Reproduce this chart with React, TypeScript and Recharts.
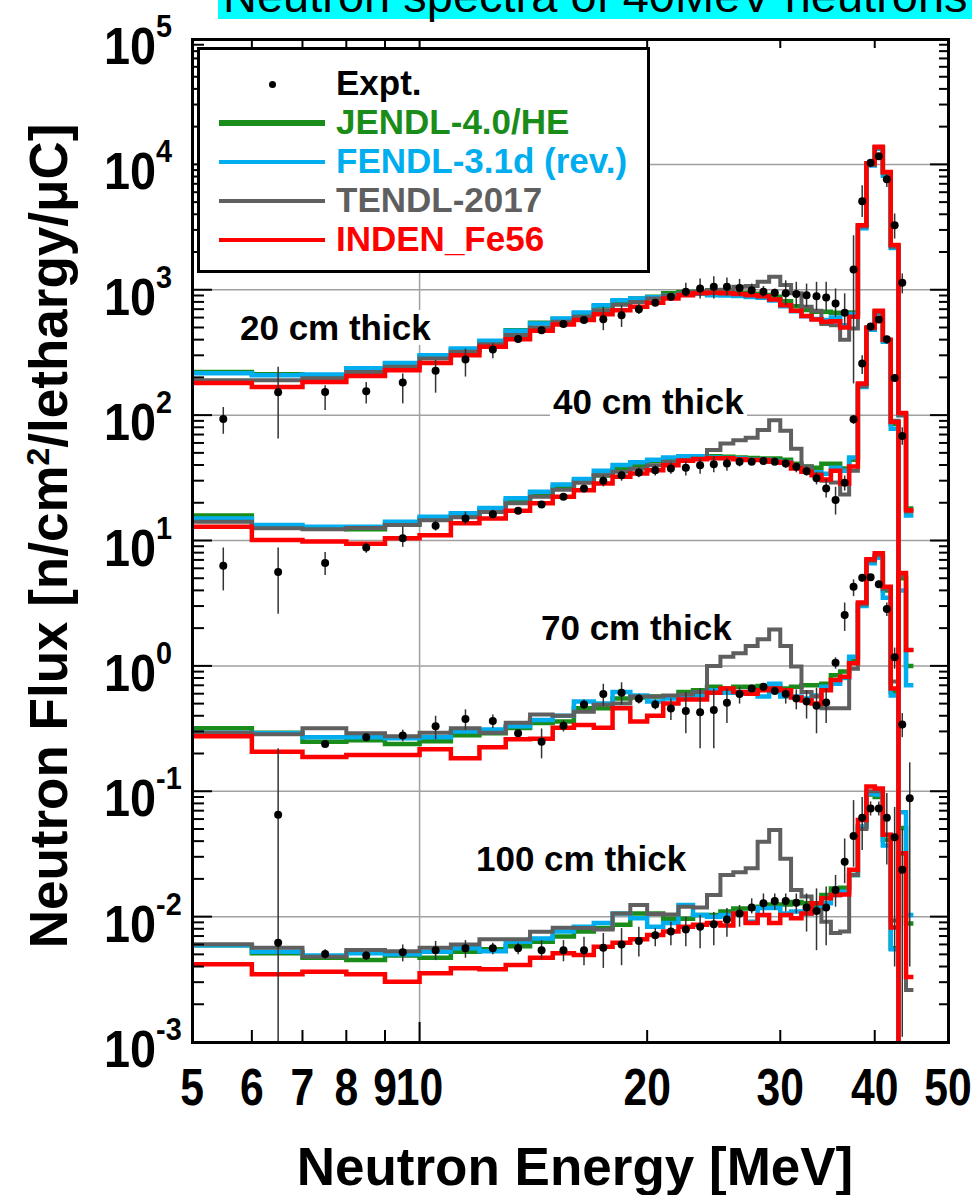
import React from 'react';
import { CartesianGrid, ComposedChart, ErrorBar, Line, Scatter, XAxis, YAxis } from 'recharts';

const FONT = "'Liberation Sans', Arial, Helvetica, sans-serif";

const W = 972;
const H = 1195;
const PLOT_LEFT = 192;
const PLOT_RIGHT = 948;
const PLOT_TOP = 39;
const PLOT_BOTTOM = 1042;

const GREEN = '#1a8c1a';
const BLUE = '#00aeef';
const GREY = '#5f5f5f';
const RED = '#ff0000';

// value used for bins that fall below the frame (drawn off-scale)
const OFF = 1e-6;

// 1 MeV wide bins, 5 .. 45 MeV
const BIN_EDGES = [5, 6, 7, 8, 9, 10, 11, 12, 13, 14, 15, 16, 17, 18, 19, 20, 21, 22, 23, 24, 25, 26, 27, 28, 29, 30, 31, 32, 33, 34, 35, 36, 37, 38, 39, 40, 41, 42, 43, 44, 45];
const EXPT_E = [5.5, 6.5, 7.5, 8.5, 9.5, 10.5, 11.5, 12.5, 13.5, 14.5, 15.5, 16.5, 17.5, 18.5, 19.5, 20.5, 21.5, 22.5, 23.5, 24.5, 25.5, 26.5, 27.5, 28.5, 29.5, 30.5, 31.5, 32.5, 33.5, 34.5, 35.5, 36.5, 37.5, 38.5, 39.5, 40.5, 41.5, 42.5, 43.5, 44.5];

const X_TICKS = [5, 6, 7, 8, 9, 10, 20, 30, 40, 50];
const X_TICK_LABELS = ['5', '6', '7', '8', '9', '10', '20', '30', '40', '50'];
const Y_DECADES = [-3, -2, -1, 0, 1, 2, 3, 4, 5];
const Y_GRID = [1e-2, 1e-1, 1, 10, 100, 1e3, 1e4];

// 20 cm thick
const JENDL_20 = [221, 212, 208, 232, 255, 293, 332, 385, 475, 545, 585, 650, 740, 810, 850, 880, 936, 960, 960, 955, 950, 945, 930, 910, 880, 810, 740, 690, 667, 667, 654, 650, 660, 3250, 10000, 13700, 8600, 2250, 102, 18];
const FENDL_20 = [216, 208, 211, 237, 261, 300, 340, 392, 471, 538, 590, 660, 753, 826, 852, 870, 900, 925, 930, 906, 900, 890, 875, 865, 820, 740, 675, 615, 585, 575, 600, 520, 640, 3100, 9800, 13300, 8100, 2150, 100, 15.8];
const TENDL_20 = [190, 190, 197, 221, 243, 283, 320, 368, 435, 500, 555, 610, 687, 760, 800, 850, 900, 940, 970, 994, 1002, 1059, 1070, 1157, 1267, 1089, 936, 731, 679, 532, 520, 400, 490, 3200, 9900, 13500, 8500, 2200, 100, 17];
const INDEN_20 = [180, 168, 184, 205, 228, 261, 301, 351, 402, 471, 528, 573, 639, 687, 731, 787, 852, 906, 936, 946, 936, 923, 906, 889, 837, 753, 679, 617, 580, 555, 560, 500, 610, 3275, 10200, 13800, 8700, 2270, 104, 17.4];

// 40 cm thick
const JENDL_40 = [15.8, 12.9, 12.7, 12.3, 13.5, 15.0, 16.0, 17.5, 20.8, 23.5, 26.5, 29.5, 33, 37, 40, 43, 45, 46.5, 47, 47, 46.5, 46, 45.5, 45, 45, 44, 41, 39, 38, 41, 41, 37.6, 44, 175, 495, 670, 395, 85, OFF, OFF];
const FENDL_40 = [15.0, 13.3, 12.9, 12.9, 14.1, 15.5, 16.5, 18.2, 21.7, 24.5, 28.0, 31, 36, 40, 42, 44, 46, 47, 47, 46, 45.5, 45, 44, 44, 43, 42, 38, 36, 35, 34, 38, 36, 46, 168, 480, 650, 385, 78, OFF, OFF];
const TENDL_40 = [14.1, 12.5, 12.3, 12.6, 13.3, 14.5, 15.3, 16.9, 19.8, 22.3, 25.4, 28.9, 33.2, 35.3, 37.4, 39.9, 42.4, 43.8, 45, 52.6, 59.4, 63, 66, 76, 91, 75, 54, 39, 34, 30, 29, 23.3, 36, 170, 490, 660, 395, 90, OFF, OFF];
const INDEN_40 = [12.9, 10.1, 9.8, 9.4, 10.4, 11.0, 13.7, 15.0, 17.3, 19.8, 22.3, 25.2, 28.5, 32.2, 34.3, 36.4, 39.9, 43.2, 44.4, 45.2, 45.2, 44.4, 43.8, 43.8, 42.4, 41.7, 37.6, 35.3, 33.2, 30.7, 36, 28.5, 39, 179, 500, 680, 400, 88, OFF, OFF];

// 70 cm thick
const JENDL_70 = [0.318, 0.293, 0.248, 0.255, 0.238, 0.251, 0.28, 0.29, 0.32, 0.35, 0.36, 0.46, 0.46, 0.55, 0.56, 0.57, 0.57, 0.62, 0.64, 0.68, 0.66, 0.68, 0.68, 0.69, 0.68, 0.66, 0.68, 0.70, 0.70, 0.72, 0.84, 0.90, 1.1, 3.1, 6.8, 7.5, 4.0, 0.62, 5.0, 1.0];
const FENDL_70 = [0.293, 0.29, 0.27, 0.27, 0.265, 0.27, 0.3, 0.311, 0.33, 0.37, 0.40, 0.52, 0.50, 0.62, 0.58, 0.52, 0.55, 0.56, 0.58, 0.64, 0.61, 0.62, 0.62, 0.57, 0.72, 0.57, 0.57, 0.55, 0.58, 0.68, 0.72, 0.8, 1.18, 3.0, 6.6, 7.3, 3.5, 0.58, 4.0, 0.7];
const TENDL_70 = [0.293, 0.285, 0.318, 0.29, 0.275, 0.293, 0.318, 0.293, 0.352, 0.41, 0.40, 0.43, 0.49, 0.50, 0.57, 0.57, 0.58, 0.59, 0.62, 1.0, 1.18, 1.26, 1.44, 1.63, 1.95, 1.44, 0.99, 0.62, 0.57, 0.46, 0.46, 0.46, 0.95, 3.1, 6.9, 7.6, 4.1, 0.75, 5.2, 1.34];
const INDEN_70 = [0.275, 0.207, 0.188, 0.195, 0.195, 0.216, 0.183, 0.224, 0.26, 0.262, 0.321, 0.337, 0.321, 0.46, 0.36, 0.40, 0.50, 0.54, 0.54, 0.61, 0.66, 0.62, 0.60, 0.64, 0.66, 0.64, 0.56, 0.53, 0.50, 0.64, 0.77, 0.82, 1.05, 3.2, 7.1, 7.9, 4.27, 0.66, 5.5, 1.34];

// 100 cm thick
const JENDL_100 = [0.0059, 0.0051, 0.0047, 0.00451, 0.0049, 0.0047, 0.00525, 0.0055, 0.0058, 0.0063, 0.00693, 0.0076, 0.0081, 0.0086, 0.0106, 0.0106, 0.0096, 0.0096, 0.0103, 0.0103, 0.011, 0.0116, 0.0116, 0.012, 0.0125, 0.0125, 0.0131, 0.0128, 0.012, 0.0149, 0.0168, 0.017, 0.0215, 0.052, 0.094, 0.09, 0.041, 0.0056, 0.051, 0.0088];
const FENDL_100 = [0.0059, 0.00525, 0.0049, 0.0051, 0.005, 0.00525, 0.0056, 0.0053, 0.0063, 0.0067, 0.0076, 0.0083, 0.0089, 0.0106, 0.0097, 0.0083, 0.0089, 0.0124, 0.0103, 0.01, 0.0103, 0.0106, 0.0091, 0.0117, 0.0117, 0.0106, 0.011, 0.0106, 0.0115, 0.0128, 0.0149, 0.0158, 0.0215, 0.052, 0.096, 0.094, 0.037, 0.0055, 0.068, 0.0103];
const TENDL_100 = [0.00601, 0.00565, 0.00478, 0.00542, 0.0053, 0.00565, 0.006, 0.00659, 0.0066, 0.00759, 0.00817, 0.0081, 0.0079, 0.0106, 0.0124, 0.0105, 0.0104, 0.012, 0.0118, 0.0149, 0.0215, 0.0226, 0.0243, 0.0396, 0.049, 0.029, 0.0163, 0.0145, 0.0113, 0.0091, 0.0074, 0.0076, 0.0215, 0.05, 0.1, 0.1, 0.045, 0.0093, 0.032, 0.0026];
const INDEN_100 = [0.00417, 0.00347, 0.00364, 0.00347, 0.00303, 0.00353, 0.00387, 0.0038, 0.00411, 0.0047, 0.0051, 0.00494, 0.00575, 0.0062, 0.00659, 0.00713, 0.0076, 0.0083, 0.0086, 0.0089, 0.0085, 0.0106, 0.0089, 0.0103, 0.0089, 0.0103, 0.0097, 0.0106, 0.0128, 0.014, 0.0149, 0.015, 0.0236, 0.059, 0.109, 0.105, 0.045, 0.0082, 0.032, 0.0033];

// measured points and their error bars [low, high]
const EXPT_20 = [93, 152, 153, 155, 182, 226, 278, 334, 404, 476, 532, 573, 583, 627, 700, 787, 879, 963, 1024, 1055, 1055, 1035, 993, 963, 946, 936, 923, 906, 889, 868, 778, 654, 1452, 5090, 10300, 11600, 7600, 3270, 1135, null];
const EXPT_20_ERR = [[71, 116], [65, 243], [110, 173], [124, 184], [124, 215], [151, 275], [203, 340], [284, 375], [380, 430], [455, 500], [510, 555], [550, 600], [476, 731], [505, 753], [640, 770], [740, 840], [820, 940], [879, 1137], [852, 1230], [850, 1280], [900, 1250], [900, 1220], [910, 1120], [880, 1070], [880, 1020], [753, 1190], [731, 1157], [731, 1120], [687, 1157], [687, 1157], [608, 1024], [523, 936], [179, 2720], [3810, 6820], [9500, 11000], [11000, 12200], [6600, 8300], [2560, 4060], [935, 1350], null];

const EXPT_40 = [6.3, 5.6, 6.6, 8.8, 10.4, 13.1, 15.0, 16.2, 17.3, 19.4, 22.3, 26, 29.9, 33.2, 34.9, 36.4, 37.6, 38, 39.9, 40.6, 41.2, 42.4, 42.4, 43, 42.4, 41.2, 38.7, 35.7, 31.3, 26, 21, 28.9, 92.5, 258, 510, 580, 402, 198, 68, null];
const EXPT_40_ERR = [[4.0, 8.8], [2.6, 8.8], [5.3, 8.1], [8.0, 9.6], [8.9, 12.9], [12, 14.5], [13.5, 17], [15, 17.6], [16.3, 18.4], [18.2, 20.6], [21, 23.6], [24.5, 27.5], [27, 33], [30, 36], [32, 38], [33, 40], [34, 42], [33, 43], [34, 45], [35, 47], [36, 46], [39, 46], [40, 45], [41, 45], [40, 45], [38, 44], [35, 42], [33, 39], [28, 35], [22, 31], [16.1, 26.8], [25, 33], [85, 100], [213, 300], [480, 540], [550, 610], [370, 430], [185, 212], [58, 80], null];

const EXPT_70 = [null, 0.065, 0.238, 0.27, 0.279, 0.33, 0.377, 0.363, 0.29, 0.248, 0.333, 0.493, 0.596, 0.61, 0.547, 0.493, 0.458, 0.437, 0.426, 0.445, 0.508, 0.596, 0.66, 0.68, 0.63, 0.596, 0.55, 0.52, 0.48, 0.51, 1.06, 2.54, 4.27, 5.05, 5.1, 4.47, 2.84, 1.17, 0.34, null];
const EXPT_70_ERR = [null, [0.001, 0.22], [0.225, 0.252], [0.255, 0.285], [0.25, 0.31], [0.26, 0.4], [0.31, 0.45], [0.32, 0.41], [0.275, 0.305], [0.183, 0.317], [0.3, 0.37], [0.45, 0.54], [0.48, 0.72], [0.49, 0.74], [0.5, 0.6], [0.45, 0.54], [0.37, 0.55], [0.29, 0.62], [0.22, 0.66], [0.22, 0.66], [0.35, 0.66], [0.5, 0.68], [0.62, 0.7], [0.64, 0.72], [0.6, 0.67], [0.5, 0.66], [0.45, 0.65], [0.38, 0.64], [0.29, 0.67], [0.35, 0.66], [0.95, 1.17], [1.9, 3.2], [3.6, 4.9], [4.7, 5.4], [4.8, 5.4], [4.2, 4.8], [2.5, 3.2], [0.95, 1.4], [0.27, 0.42], null];

const EXPT_100 = [null, 0.0062, 0.00504, 0.00489, 0.0052, 0.0054, 0.0056, 0.0056, 0.0056, 0.0054, 0.0054, 0.0054, 0.00565, 0.006, 0.0064, 0.0071, 0.0076, 0.0079, 0.0083, 0.0087, 0.0095, 0.0106, 0.0118, 0.0128, 0.0133, 0.0133, 0.0129, 0.0118, 0.0111, 0.0118, 0.0163, 0.0274, 0.044, 0.0615, 0.073, 0.073, 0.0615, 0.043, 0.0236, 0.088];
const EXPT_100_ERR = [null, [0.0058, 0.0066], [0.0046, 0.0055], [0.0045, 0.0053], [0.0044, 0.006], [0.0045, 0.0064], [0.0047, 0.0065], [0.005, 0.0062], [0.005, 0.0062], [0.0046, 0.0065], [0.0044, 0.0065], [0.0041, 0.0069], [0.0039, 0.0074], [0.0041, 0.0081], [0.0048, 0.0083], [0.0058, 0.0081], [0.0059, 0.0091], [0.0058, 0.01], [0.0056, 0.0103], [0.0059, 0.0109], [0.0069, 0.0117], [0.0083, 0.0124], [0.0106, 0.014], [0.0106, 0.0153], [0.0113, 0.0153], [0.011, 0.0153], [0.0106, 0.0153], [0.0076, 0.0153], [0.0054, 0.0168], [0.0059, 0.0174], [0.012, 0.0215], [0.0185, 0.042], [0.025, 0.085], [0.034, 0.09], [0.064, 0.083], [0.064, 0.083], [0.026, 0.097], [0.004, 0.075], [0.0011, 0.05], [0.004, 0.17]];

const SERIES = [
  { name: 'JENDL-4.0/HE', color: GREEN, width: 4.5, groups: [JENDL_20, JENDL_40, JENDL_70, JENDL_100] },
  { name: 'FENDL-3.1d (rev.)', color: BLUE, width: 4.5, groups: [FENDL_20, FENDL_40, FENDL_70, FENDL_100] },
  { name: 'TENDL-2017', color: GREY, width: 4, groups: [TENDL_20, TENDL_40, TENDL_70, TENDL_100] },
  { name: 'INDEN_Fe56', color: RED, width: 4.5, groups: [INDEN_20, INDEN_40, INDEN_70, INDEN_100] },
];

const EXPT_GROUPS = [
  { vals: EXPT_20, errs: EXPT_20_ERR },
  { vals: EXPT_40, errs: EXPT_40_ERR },
  { vals: EXPT_70, errs: EXPT_70_ERR },
  { vals: EXPT_100, errs: EXPT_100_ERR },
];

const THICK_LABELS = [
  { text: '20 cm thick', left: 240, baseline: 340 },
  { text: '40 cm thick', left: 553, baseline: 414 },
  { text: '70 cm thick', left: 541, baseline: 640 },
  { text: '100 cm thick', left: 476, baseline: 871 },
];

const LEGEND_ITEMS = [
  { label: 'Expt.', color: '#000', line: 0 },
  { label: 'JENDL-4.0/HE', color: GREEN, line: 6 },
  { label: 'FENDL-3.1d (rev.)', color: BLUE, line: 4 },
  { label: 'TENDL-2017', color: GREY, line: 4 },
  { label: 'INDEN_Fe56', color: RED, line: 4 },
];

const Y_TICKS: number[] = [];
Y_DECADES.forEach((d) => {
  if (d === 5) {
    Y_TICKS.push(1e5);
    return;
  }
  for (let m = 1; m <= 9; m++) Y_TICKS.push(Number((m * Math.pow(10, d)).toPrecision(6)));
});

function hist(vals: number[]) {
  const pts = vals.map((v, i) => ({ x: BIN_EDGES[i], y: v }));
  pts.push({ x: BIN_EDGES[vals.length], y: vals[vals.length - 1] });
  return pts;
}

function expt(vals: (number | null)[], errs: (number[] | null)[]) {
  const out: { x: number; y: number; err: number[] }[] = [];
  EXPT_E.forEach((e, i) => {
    const v = vals[i];
    if (v == null) return;
    const r = errs[i];
    out.push({ x: e, y: v, err: r ? [v - r[0], r[1] - v] : [0, 0] });
  });
  return out;
}

function YTick(props: any) {
  const { y, payload } = props;
  const e = Math.log10(payload.value);
  const major = Math.abs(e - Math.round(e)) < 1e-6;
  return (
    <g>
      <line x1={PLOT_LEFT} x2={PLOT_LEFT + (major ? 20 : 12)} y1={y} y2={y} stroke="#000" strokeWidth={2} />
      <line x1={PLOT_RIGHT - (major ? 18 : 9)} x2={PLOT_RIGHT} y1={y} y2={y} stroke="#000" strokeWidth={2} />
      {major && (
        <text transform={`translate(104, ${y + 25}) scale(0.9, 1)`} fontFamily={FONT} fontWeight="bold" fontSize={52} fill="#000">
          10
          <tspan dy={-27} fontSize={32}>
            {Math.round(e)}
          </tspan>
        </text>
      )}
    </g>
  );
}

function XTick(props: any) {
  const { x, payload, index } = props;
  const v = payload.value;
  const edge = v === 5 || v === 50;
  return (
    <g>
      {!edge && <line x1={x} x2={x} y1={PLOT_BOTTOM} y2={PLOT_BOTTOM - (v === 10 ? 20 : 12)} stroke="#000" strokeWidth={2} />}
      {!edge && <line x1={x} x2={x} y1={PLOT_TOP} y2={PLOT_TOP + 9} stroke="#000" strokeWidth={2} />}
      <text transform={`translate(${x}, ${PLOT_BOTTOM + 63}) scale(0.82, 1)`} textAnchor="middle" fontFamily={FONT} fontWeight="bold" fontSize={52} fill="#000">
        {X_TICK_LABELS[index] ?? String(v)}
      </text>
    </g>
  );
}

const renderDot = (p: any) => <circle cx={p.cx} cy={p.cy} r={4} fill="#000" />;

export default function App() {
  return (
    <div style={{ position: 'absolute', left: 0, top: 0, width: W, height: H, overflow: 'hidden', background: '#fff', fontFamily: FONT }}>
      <ComposedChart width={W} height={H} margin={{ top: PLOT_TOP, right: W - PLOT_RIGHT, bottom: H - PLOT_BOTTOM - 30, left: PLOT_LEFT - 60 }}>
        <CartesianGrid horizontalValues={Y_GRID} verticalValues={[10]} stroke="#a0a0a0" strokeWidth={1.5} />
        <XAxis
          dataKey="x"
          type="number"
          scale="log"
          domain={[5, 50]}
          allowDataOverflow
          ticks={X_TICKS}
          interval={0}
          height={30}
          tickSize={0}
          tickMargin={0}
          tickLine={false}
          axisLine={false}
          tick={<XTick />}
        />
        <YAxis
          dataKey="y"
          type="number"
          scale="log"
          domain={[1e-3, 1e5]}
          allowDataOverflow
          ticks={Y_TICKS}
          interval={0}
          width={60}
          tickSize={0}
          tickMargin={0}
          tickLine={false}
          axisLine={false}
          tick={<YTick />}
        />
        {SERIES.flatMap((s) =>
          s.groups.map((vals, gi) => (
            <Line
              key={`${s.name}-${gi}`}
              data={hist(vals)}
              dataKey="y"
              type="stepAfter"
              stroke={s.color}
              strokeWidth={s.width}
              strokeLinejoin="miter"
              strokeLinecap="butt"
              dot={false}
              activeDot={false}
              isAnimationActive={false}
            />
          ))
        )}
        {EXPT_GROUPS.map((g, gi) => (
          <Scatter key={`expt-${gi}`} data={expt(g.vals, g.errs)} shape={renderDot} isAnimationActive={false}>
            <ErrorBar dataKey="err" direction="y" width={0} stroke="#333" strokeWidth={1.5} isAnimationActive={false} />
          </Scatter>
        ))}
      </ComposedChart>

      {/* frame */}
      <div style={{ position: 'absolute', left: PLOT_LEFT - 1.5, top: PLOT_TOP - 1.5, width: PLOT_RIGHT - PLOT_LEFT + 3, height: PLOT_BOTTOM - PLOT_TOP + 3, border: '3px solid #000', boxSizing: 'border-box', pointerEvents: 'none' }} />

      {/* title strip, cropped at the top edge as in the source figure */}
      <div style={{ position: 'absolute', left: 218, top: -28, height: 47, width: 790, background: '#00ffff', fontSize: 47, lineHeight: '47px', paddingLeft: 5, whiteSpace: 'nowrap', color: '#000' }}>
        Neutron spectra of 40MeV neutrons
      </div>

      {THICK_LABELS.map((t) => (
        <div key={t.text} style={{ position: 'absolute', left: t.left - 3, top: t.baseline - 29.6, fontSize: 35, lineHeight: '35px', fontWeight: 'bold', background: '#fff', padding: '0 3px', whiteSpace: 'nowrap', color: '#000' }}>
          {t.text}
        </div>
      ))}

      {/* legend */}
      <div style={{ position: 'absolute', left: 197, top: 47, width: 453, height: 226, border: '3px solid #000', boxSizing: 'border-box', background: '#fff' }} />
      {LEGEND_ITEMS.map((it, i) => {
        const baseline = 95 + 38.9 * i;
        const cy = baseline - 11;
        return (
          <React.Fragment key={it.label}>
            {it.line === 0 ? (
              <div style={{ position: 'absolute', left: 272 - 3.5, top: cy - 3.5, width: 7, height: 7, borderRadius: '50%', background: '#000' }} />
            ) : (
              <div style={{ position: 'absolute', left: 219, top: cy - it.line / 2, width: 106, height: it.line, background: it.color }} />
            )}
            <div style={{ position: 'absolute', left: 336, top: baseline - 29.6, fontSize: 35, lineHeight: '35px', fontWeight: 'bold', color: it.color, whiteSpace: 'nowrap' }}>
              {it.label}
            </div>
          </React.Fragment>
        );
      })}

      {/* axis titles */}
      <div style={{ position: 'absolute', left: 48, top: 536, transform: 'translate(-50%, -50%) rotate(-90deg)', whiteSpace: 'nowrap', fontSize: 53, lineHeight: '53px', fontWeight: 'bold', color: '#000' }}>
        Neutron Flux [n/cm<span style={{ fontSize: 32, verticalAlign: 'top', lineHeight: '32px' }}>2</span>/lethargy/μC]
      </div>
      <div style={{ position: 'absolute', left: 575, top: 1140, transform: 'translateX(-50%)', whiteSpace: 'nowrap', fontSize: 53, lineHeight: '53px', fontWeight: 'bold', color: '#000' }}>
        Neutron Energy [MeV]
      </div>
    </div>
  );
}
